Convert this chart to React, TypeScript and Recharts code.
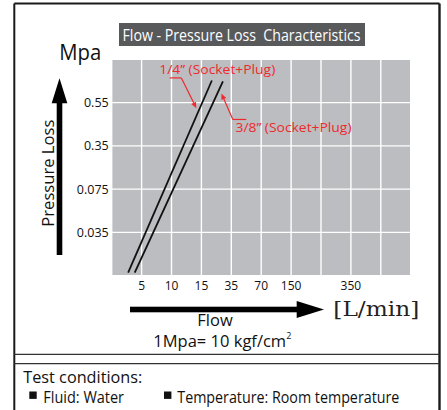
import {
  LineChart,
  Line,
  XAxis,
  YAxis,
  CartesianGrid,
  ReferenceLine,
  ReferenceDot,
} from 'recharts';

// x axis is positional: grid column index -> flow label
const flowTicks = [1, 2, 3, 4, 5, 6, 7, 8, 9];
const flowLabels = ['5', '10', '15', '35', '70', '150', '', '350', ''];
// y axis positional: grid row index -> pressure label
const lossTicks = [1, 2, 3, 4];
const lossLabels = ['0.035', '0.075', '0.35', '0.55'];

const quarterFlow = [0.55, 3.35];
const quarterLoss = [0.07, 4.51];
const threeEighthFlow = [0.77, 3.72];
const threeEighthLoss = [0.07, 4.49];

const noteText = ['1/4\u201D (Socket+Plug)', '3/8\u201D (Socket+Plug)'];
const noteX = [1.59, 4.14];
const noteY = [4.66, 3.33];
const leaderX = [
  [1.94, 2.33, 2.83],
  [4.5, 4.05, 3.67],
];
const leaderY = [
  [4.57, 4.57, 3.87],
  [3.61, 3.61, 4.21],
];

const RED = '#ee2a2e';
const FONT = '"Open Sans", "Noto Sans", sans-serif';

const toRows = (xs: number[], ys: number[]) => xs.map((x, i) => ({ x, y: ys[i] }));

function ArrowSeg(props: any) {
  const { x1, y1, x2, y2 } = props;
  const ang = Math.atan2(y2 - y1, x2 - x1);
  const len = 6;
  const w = 2.6;
  const bx = x2 - len * Math.cos(ang);
  const by = y2 - len * Math.sin(ang);
  const px = -Math.sin(ang) * w;
  const py = Math.cos(ang) * w;
  return (
    <g>
      <line x1={x1} y1={y1} x2={bx} y2={by} stroke={RED} strokeWidth={1.2} />
      <polygon points={`${x2},${y2} ${bx + px},${by + py} ${bx - px},${by - py}`} fill={RED} />
    </g>
  );
}

function PlainSeg(props: any) {
  const { x1, y1, x2, y2 } = props;
  return <line x1={x1} y1={y1} x2={x2} y2={y2} stroke={RED} strokeWidth={1.2} />;
}

export default function App() {
  return (
    <div
      style={{
        position: 'absolute',
        left: 0,
        top: 0,
        width: 447,
        height: 410,
        background: '#fff',
        fontFamily: FONT,
      }}
    >
      <svg width={447} height={410} style={{ position: 'absolute', left: 0, top: 0 }}>
        {/* frame */}
        <line x1={14.3} y1={3.5} x2={14.3} y2={410} stroke="#1a1a1a" strokeWidth={2} />
        <line x1={439.5} y1={3.5} x2={439.5} y2={410} stroke="#1a1a1a" strokeWidth={2.4} />
        <line x1={14.3} y1={3.5} x2={439.5} y2={3.5} stroke="#1a1a1a" strokeWidth={1.8} />
        <line x1={14.3} y1={354.3} x2={439.5} y2={354.3} stroke="#333" strokeWidth={1.3} />
        <line x1={14.3} y1={363.7} x2={439.5} y2={363.7} stroke="#333" strokeWidth={1.3} />

        {/* title */}
        <rect x={119} y={23} width={246} height={23} fill="#58595b" />
        <text
          x={122.5}
          y={40.5}
          fill="#fff"
          fontSize={16}
          textLength={238}
          lengthAdjust="spacingAndGlyphs"
          style={{ whiteSpace: 'pre' }}
        >
          {'Flow - Pressure Loss  Characteristics'}
        </text>

        {/* y axis arrow */}
        <text x={59.3} y={60} fontSize={21} textLength={42} lengthAdjust="spacingAndGlyphs" fill="#111">
          Mpa
        </text>
        <rect x={56.7} y={100} width={5.6} height={155} fill="#000" />
        <polygon points="59.5,78.3 51.7,103.3 67.3,103.3" fill="#000" />
        <text
          transform="translate(53.5,226.7) rotate(-90)"
          fontSize={17}
          textLength={107}
          lengthAdjust="spacingAndGlyphs"
          fill="#111"
        >
          Pressure Loss
        </text>

        {/* x axis arrow */}
        <rect x={130} y={306.7} width={168} height={5.6} fill="#000" />
        <polygon points="324,309.5 296.7,301 296.7,318" fill="#000" />
        <text
          x={333.3}
          y={316}
          fontSize={20}
          fontFamily='"DejaVu Serif", "Liberation Serif", serif'
          textLength={86}
          lengthAdjust="spacingAndGlyphs"
          fill="#222"
        >
          [L/min]
        </text>
        <text x={197.3} y={326} fontSize={16} textLength={35.4} lengthAdjust="spacingAndGlyphs" fill="#111">
          Flow
        </text>
        <text x={153.3} y={347.3} fontSize={16.5} fill="#111">
          1Mpa= 10 kgf/cm
          <tspan fontSize={9} dy={-8}>
            2
          </tspan>
        </text>

        {/* test conditions */}
        <text x={23.3} y={383.3} fontSize={16.5} textLength={119} lengthAdjust="spacingAndGlyphs" fill="#111">
          Test conditions:
        </text>
        <rect x={29.3} y={391.5} width={7.4} height={7.4} fill="#111" />
        <text x={43.3} y={403.3} fontSize={16} textLength={80.7} lengthAdjust="spacingAndGlyphs" fill="#111">
          Fluid: Water
        </text>
        <rect x={164} y={391.5} width={7.4} height={7.4} fill="#111" />
        <text x={177.3} y={403.3} fontSize={16} textLength={222} lengthAdjust="spacingAndGlyphs" fill="#111">
          Temperature: Room temperature
        </text>
      </svg>

      <div style={{ position: 'absolute', left: 0, top: 0 }}>
        <LineChart
          width={447}
          height={410}
          margin={{ top: 59.3, right: 36.3, bottom: 114.3, left: 61.7 }}
        >
          <CartesianGrid fill="#bcbdc0" stroke="#ffffff" strokeWidth={1.4} />
          <XAxis
            type="number"
            dataKey="x"
            domain={[0, 10]}
            ticks={flowTicks}
            tickFormatter={(v: number) => flowLabels[flowTicks.indexOf(v)] ?? ''}
            axisLine={false}
            tickLine={false}
            tickSize={4}
            height={20}
            interval={0}
            allowDataOverflow
            tick={{ fontSize: 12, fill: '#111', fontFamily: FONT }}
          />
          <YAxis
            type="number"
            dataKey="y"
            domain={[0, 5]}
            ticks={lossTicks}
            tickFormatter={(v: number) => lossLabels[lossTicks.indexOf(v)] ?? ''}
            axisLine={false}
            tickLine={false}
            tickSize={0}
            tickMargin={3}
            width={50}
            interval={0}
            allowDataOverflow
            tick={{ fontSize: 12.5, fill: '#111', fontFamily: FONT }}
          />
          <Line
            data={toRows(quarterFlow, quarterLoss)}
            dataKey="y"
            type="linear"
            stroke="#111"
            strokeWidth={1.8}
            dot={false}
            isAnimationActive={false}
          />
          <Line
            data={toRows(threeEighthFlow, threeEighthLoss)}
            dataKey="y"
            type="linear"
            stroke="#111"
            strokeWidth={1.8}
            dot={false}
            isAnimationActive={false}
          />
          {leaderX.map((xs, i) => (
            <ReferenceLine
              key={`a${i}`}
              segment={[
                { x: xs[0], y: leaderY[i][0] },
                { x: xs[1], y: leaderY[i][1] },
              ]}
              shape={PlainSeg}
            />
          ))}
          {leaderX.map((xs, i) => (
            <ReferenceLine
              key={`b${i}`}
              segment={[
                { x: xs[1], y: leaderY[i][1] },
                { x: xs[2], y: leaderY[i][2] },
              ]}
              shape={ArrowSeg}
            />
          ))}
          {noteText.map((t, i) => (
            <ReferenceDot
              key={t}
              x={noteX[i]}
              y={noteY[i]}
              r={0}
              shape={(p: any) => (
                <text
                  x={p.cx}
                  y={p.cy}
                  fill={RED}
                  fontSize={12.5}
                  fontFamily={FONT}
                  textLength={116}
                  lengthAdjust="spacingAndGlyphs"
                >
                  {t}
                </text>
              )}
            />
          ))}
        </LineChart>
      </div>
    </div>
  );
}
